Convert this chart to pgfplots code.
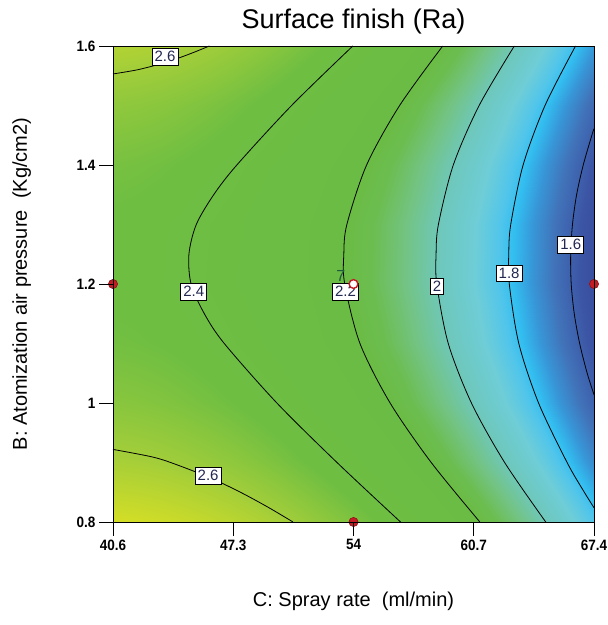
\documentclass[border=0pt]{standalone}
\usepackage{fontspec}
\setmainfont{Liberation Sans}
\setsansfont{Liberation Sans}
\newfontfamily\tickfont[FakeStretch=0.9]{Liberation Sans}
\usepackage{pgfplots}
\usepackage{pgfplotstable}
\pgfplotsset{compat=1.18}

\definecolor{ptred}{RGB}{196,28,36}
\definecolor{labtext}{RGB}{35,40,80}
\definecolor{sevencol}{RGB}{30,90,60}

\pgfplotsset{
  colormap={dx}{
    rgb255(151.75pt)=(57,78,158);
    rgb255(157pt)=(60,85,165);
    rgb255(166pt)=(65,115,185);
    rgb255(173pt)=(55,150,215);
    rgb255(179pt)=(50,190,240);
    rgb255(183pt)=(80,197,235);
    rgb255(190pt)=(110,205,215);
    rgb255(199pt)=(110,200,190);
    rgb255(208pt)=(115,195,130);
    rgb255(215pt)=(108,189,80);
    rgb255(220pt)=(106,188,69);
    rgb255(245pt)=(110,190,66);
    rgb255(260pt)=(160,205,58);
    rgb255(275.2pt)=(212,222,38)
  }
}

% predicted Ra on a 21 x 9 grid (spray rate C, air pressure B)
\pgfplotstableread{
C B R
40.6 0.8 2.752
41.94 0.8 2.745
43.28 0.8 2.734
44.62 0.8 2.718
45.96 0.8 2.699
47.3 0.8 2.676
48.64 0.8 2.648
49.98 0.8 2.617
51.32 0.8 2.581
52.66 0.8 2.541
54 0.8 2.498
55.34 0.8 2.450
56.68 0.8 2.398
58.02 0.8 2.341
59.36 0.8 2.281
60.7 0.8 2.217
62.04 0.8 2.148
63.38 0.8 2.076
64.72 0.8 1.999
66.06 0.8 1.918
67.4 0.8 1.834
40.6 0.9 2.624
41.94 0.9 2.617
43.28 0.9 2.606
44.62 0.9 2.590
45.96 0.9 2.571
47.3 0.9 2.548
48.64 0.9 2.520
49.98 0.9 2.489
51.32 0.9 2.453
52.66 0.9 2.413
54 0.9 2.370
55.34 0.9 2.322
56.68 0.9 2.270
58.02 0.9 2.213
59.36 0.9 2.153
60.7 0.9 2.089
62.04 0.9 2.020
63.38 0.9 1.948
64.72 0.9 1.871
66.06 0.9 1.790
67.4 0.9 1.706
40.6 1.0 2.529
41.94 1.0 2.522
43.28 1.0 2.511
44.62 1.0 2.495
45.96 1.0 2.476
47.3 1.0 2.453
48.64 1.0 2.425
49.98 1.0 2.394
51.32 1.0 2.358
52.66 1.0 2.318
54 1.0 2.275
55.34 1.0 2.227
56.68 1.0 2.175
58.02 1.0 2.118
59.36 1.0 2.058
60.7 1.0 1.994
62.04 1.0 1.925
63.38 1.0 1.853
64.72 1.0 1.776
66.06 1.0 1.695
67.4 1.0 1.611
40.6 1.1 2.467
41.94 1.1 2.460
43.28 1.1 2.449
44.62 1.1 2.433
45.96 1.1 2.414
47.3 1.1 2.391
48.64 1.1 2.363
49.98 1.1 2.332
51.32 1.1 2.296
52.66 1.1 2.256
54 1.1 2.213
55.34 1.1 2.165
56.68 1.1 2.113
58.02 1.1 2.056
59.36 1.1 1.996
60.7 1.1 1.932
62.04 1.1 1.863
63.38 1.1 1.791
64.72 1.1 1.714
66.06 1.1 1.633
67.4 1.1 1.549
40.6 1.2 2.438
41.94 1.2 2.431
43.28 1.2 2.420
44.62 1.2 2.404
45.96 1.2 2.385
47.3 1.2 2.362
48.64 1.2 2.334
49.98 1.2 2.303
51.32 1.2 2.267
52.66 1.2 2.227
54 1.2 2.184
55.34 1.2 2.136
56.68 1.2 2.084
58.02 1.2 2.027
59.36 1.2 1.967
60.7 1.2 1.903
62.04 1.2 1.834
63.38 1.2 1.762
64.72 1.2 1.685
66.06 1.2 1.604
67.4 1.2 1.520
40.6 1.3 2.442
41.94 1.3 2.435
43.28 1.3 2.424
44.62 1.3 2.408
45.96 1.3 2.389
47.3 1.3 2.366
48.64 1.3 2.338
49.98 1.3 2.307
51.32 1.3 2.271
52.66 1.3 2.231
54 1.3 2.188
55.34 1.3 2.140
56.68 1.3 2.088
58.02 1.3 2.031
59.36 1.3 1.971
60.7 1.3 1.907
62.04 1.3 1.838
63.38 1.3 1.766
64.72 1.3 1.689
66.06 1.3 1.608
67.4 1.3 1.524
40.6 1.4 2.480
41.94 1.4 2.473
43.28 1.4 2.462
44.62 1.4 2.446
45.96 1.4 2.427
47.3 1.4 2.404
48.64 1.4 2.376
49.98 1.4 2.345
51.32 1.4 2.309
52.66 1.4 2.269
54 1.4 2.226
55.34 1.4 2.178
56.68 1.4 2.126
58.02 1.4 2.069
59.36 1.4 2.009
60.7 1.4 1.945
62.04 1.4 1.876
63.38 1.4 1.804
64.72 1.4 1.727
66.06 1.4 1.646
67.4 1.4 1.562
40.6 1.5 2.550
41.94 1.5 2.543
43.28 1.5 2.532
44.62 1.5 2.516
45.96 1.5 2.497
47.3 1.5 2.474
48.64 1.5 2.446
49.98 1.5 2.415
51.32 1.5 2.379
52.66 1.5 2.339
54 1.5 2.296
55.34 1.5 2.248
56.68 1.5 2.196
58.02 1.5 2.139
59.36 1.5 2.079
60.7 1.5 2.015
62.04 1.5 1.946
63.38 1.5 1.874
64.72 1.5 1.797
66.06 1.5 1.716
67.4 1.5 1.632
40.6 1.6 2.653
41.94 1.6 2.646
43.28 1.6 2.635
44.62 1.6 2.619
45.96 1.6 2.600
47.3 1.6 2.577
48.64 1.6 2.549
49.98 1.6 2.518
51.32 1.6 2.482
52.66 1.6 2.442
54 1.6 2.399
55.34 1.6 2.351
56.68 1.6 2.299
58.02 1.6 2.242
59.36 1.6 2.182
60.7 1.6 2.118
62.04 1.6 2.049
63.38 1.6 1.977
64.72 1.6 1.900
66.06 1.6 1.819
67.4 1.6 1.735
}\gridtable

% contour label positions
\pgfplotstableread{
C B lab
43.5 1.582 2.6
45.1 1.187 2.4
53.55 1.187 2.2
58.65 1.196 2
62.67 1.218 1.8
66.1 1.266 1.6
45.9 0.878 2.6
}\labtable

\begin{document}
\begin{tikzpicture}
\begin{axis}[
    name=ax,
    set layers,
    axis on top,
    clip=false,
    scale only axis,
    width=481pt, height=476pt,
    xmin=40.6, xmax=67.4,
    ymin=0.8, ymax=1.6,
    xtick={40.6,47.3,54,60.7,67.4},
    xticklabels={40.6,47.3,54,60.7,67.4},
    ytick={0.8,1,1.2,1.4,1.6},
    yticklabels={0.8,1,1.2,1.4,1.6},
    tick align=outside,
    major tick length=14pt,
    xtick pos=bottom, ytick pos=left,
    tick label style={font=\tickfont\fontsize{15}{15}\selectfont\bfseries},
    xticklabel style={inner xsep=0pt},
    axis line style={line width=0.8pt},
    major tick style={black, line width=0.8pt},
    colormap name=dx,
    point meta min=1.5175, point meta max=2.752,
    title={Surface finish (Ra)},
    title style={at={(axis description cs:0.5,1.0248)}, anchor=base,
        font=\fontsize{27}{27}\selectfont},
    xlabel={C: Spray rate\ \ (ml/min)},
    xlabel style={at={(axis description cs:0.5,-0.1765)}, anchor=base,
        font=\fontsize{20}{20}\selectfont},
    ylabel={B: Atomization air pressure\ \ (Kg/cm2)},
    ylabel style={at={(axis description cs:-0.1788,0.5)}, anchor=base,
        font=\fontsize{20}{20}\selectfont},
]
% response surface
\addplot[surf, shader=interp, mesh/cols=21, point meta=explicit]
    table[x=C, y=B, meta=R] {\gridtable};

% contour lines
\addplot[black, line width=0.8pt, smooth, mark=none] coordinates {
    (40.6,1.553) (41.96,1.56) (43.26,1.57) (44.28,1.58) (45.16,1.59) (45.97,1.6)};
\addplot[black, line width=0.8pt, smooth, mark=none] coordinates {
    (40.6,0.922) (42.69,0.91) (43.81,0.9) (45.96,0.875) (47.70,0.85) (49.23,0.825) (50.63,0.8)};
\addplot[black, line width=0.8pt, smooth, mark=none] coordinates {
    (56.62,0.8) (53.08,0.9) (49.73,1.0) (46.80,1.1) (45.69,1.15) (44.95,1.2) (44.83,1.25)
    (45.24,1.3) (46.21,1.35) (47.50,1.4) (50.55,1.5) (53.96,1.6)};
\addplot[black, line width=0.8pt, smooth, mark=none] coordinates {
    (61.04,0.8) (58.33,0.9) (56.04,1.0) (54.36,1.1) (53.51,1.2) (53.46,1.25)
    (53.63,1.3) (54.73,1.4) (56.57,1.5) (58.97,1.6)};
\addplot[black, line width=0.8pt, smooth, mark=none] coordinates {
    (64.71,0.8) (62.42,0.9) (60.57,1.0) (59.28,1.1) (58.64,1.2) (58.60,1.25)
    (58.73,1.3) (59.56,1.4) (61.00,1.5) (62.96,1.6)};
\addplot[black, line width=0.8pt, smooth, mark=none] coordinates {
    (67.4,0.824) (66.86,0.85) (65.90,0.9) (64.31,1.0) (63.21,1.1) (62.68,1.2) (62.65,1.25)
    (62.76,1.3) (63.45,1.4) (64.67,1.5) (66.37,1.6)};
\addplot[black, line width=0.8pt, smooth, mark=none] coordinates {
    (67.4,1.014) (67.02,1.05) (66.60,1.1) (66.30,1.15) (66.13,1.2) (66.10,1.25)
    (66.20,1.3) (66.43,1.35) (66.80,1.4) (67.28,1.45) (67.4,1.461)};

% contour labels
\addplot[draw=none, mark=none, nodes near coords, point meta=explicit symbolic,
    every node near coord/.style={anchor=center, fill=white, draw=black,
        line width=0.6pt, inner xsep=2.6pt, inner ysep=3pt, text=labtext,
        font=\fontsize{15}{15}\selectfont}]
    table[x=C, y=B, meta=lab] {\labtable};

% design points
\addplot[only marks, mark=*, mark size=4.6pt, on layer=axis foreground,
    mark options={fill=ptred, draw=ptred!70!black, line width=0.6pt}]
    coordinates {(40.6,1.2) (54,0.8) (67.4,1.2)};
\addplot[only marks, mark=*, mark size=4.4pt, on layer=axis foreground,
    mark options={fill=white, draw=ptred, line width=1.4pt}]
    coordinates {(54,1.2)};
\addplot[draw=none, mark=none, nodes near coords, point meta=explicit symbolic,
    on layer=axis foreground,
    every node near coord/.style={anchor=center, inner sep=0pt, text=sevencol,
        font=\fontsize{16}{16}\selectfont}]
    coordinates {(53.3,1.213) [7]};
\end{axis}
% page frame: same margins round the plot box as the reference
\pgfresetboundingbox
\path[use as bounding box] ([xshift=-113pt,yshift=-103pt]ax.south west)
    rectangle ([xshift=13pt,yshift=46pt]ax.north east);
\end{tikzpicture}
\end{document}
